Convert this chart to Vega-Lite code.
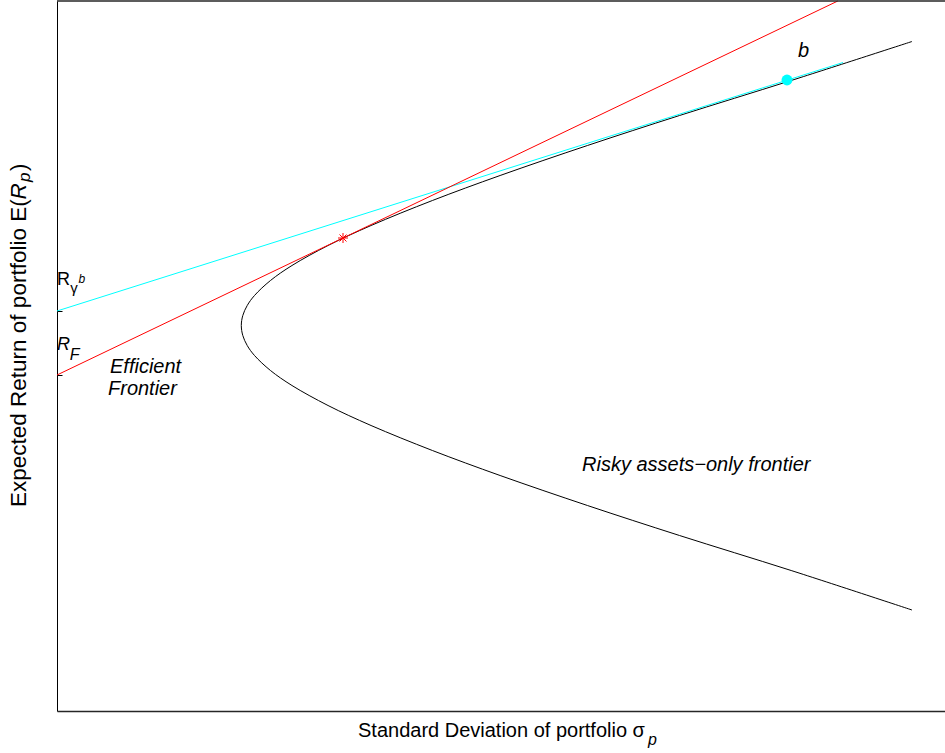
{
  "$schema": "https://vega.github.io/schema/vega-lite/v6.json",
  "width": 888,
  "height": 710,
  "autosize": {"type": "none"},
  "padding": {"left": 57, "top": 1, "right": 0, "bottom": 42},
  "background": "white",
  "config": {
    "view": {"stroke": null}
  },
  "datasets": {
    "frontier": [
      {"i": 0, "sigma": 0.4275, "ret": 0.0202},
      {"i": 1, "sigma": 0.36708, "ret": 0.0281},
      {"i": 2, "sigma": 0.31126, "ret": 0.0351},
      {"i": 3, "sigma": 0.26522, "ret": 0.0411},
      {"i": 4, "sigma": 0.22156, "ret": 0.0471},
      {"i": 5, "sigma": 0.18771, "ret": 0.0521},
      {"i": 6, "sigma": 0.15703, "ret": 0.0571},
      {"i": 7, "sigma": 0.13552, "ret": 0.0611},
      {"i": 8, "sigma": 0.11749, "ret": 0.0651},
      {"i": 9, "sigma": 0.10674, "ret": 0.0681},
      {"i": 10, "sigma": 0.09875, "ret": 0.0711},
      {"i": 11, "sigma": 0.09511, "ret": 0.0731},
      {"i": 12, "sigma": 0.0929, "ret": 0.0751},
      {"i": 13, "sigma": 0.09215, "ret": 0.0771},
      {"i": 14, "sigma": 0.0929, "ret": 0.0791},
      {"i": 15, "sigma": 0.09511, "ret": 0.0811},
      {"i": 16, "sigma": 0.09875, "ret": 0.0831},
      {"i": 17, "sigma": 0.10674, "ret": 0.0861},
      {"i": 18, "sigma": 0.11749, "ret": 0.0891},
      {"i": 19, "sigma": 0.13552, "ret": 0.0931},
      {"i": 20, "sigma": 0.15703, "ret": 0.0971},
      {"i": 21, "sigma": 0.18771, "ret": 0.1021},
      {"i": 22, "sigma": 0.22156, "ret": 0.1071},
      {"i": 23, "sigma": 0.26522, "ret": 0.1131},
      {"i": 24, "sigma": 0.31126, "ret": 0.1191},
      {"i": 25, "sigma": 0.36708, "ret": 0.1261},
      {"i": 26, "sigma": 0.4275, "ret": 0.1339}
    ],
    "cml": [
      {"sigma": 0, "ret": 0.0672},
      {"sigma": 0.3904, "ret": 0.142}
    ],
    "zeroBeta": [
      {"sigma": 0, "ret": 0.08},
      {"sigma": 0.393, "ret": 0.1297}
    ],
    "tangency": [{"sigma": 0.143, "ret": 0.0946}],
    "portfolioB": [{"sigma": 0.365, "ret": 0.1262}],
    "border": [{"sigma": 0, "sigma2": 0.444, "ret": 0.142}],
    "uprightText": [
      {"label": "Standard Deviation of portfolio σ", "sigma": 0.1505, "ret": -0.0052}
    ],
    "symbolText": [{"label": "R", "sigma": 0, "ret": 0.0852}],
    "gammaText": [{"label": "γ", "sigma": 0.0066, "ret": 0.0836}],
    "superText": [{"label": "b", "sigma": 0.0107, "ret": 0.0857}],
    "symbolItalic": [{"label": "R", "sigma": 0, "ret": 0.0722}],
    "italicText": [
      {"label": "b", "sigma": 0.3705, "ret": 0.1308},
      {"label": "Efficient", "sigma": 0.0265, "ret": 0.0676},
      {"label": "Frontier", "sigma": 0.0255, "ret": 0.0632},
      {"label": "Risky assets−only frontier", "sigma": 0.2625, "ret": 0.048}
    ],
    "subText": [
      {"label": "F", "sigma": 0.0064, "ret": 0.0702},
      {"label": "p", "sigma": 0.2955, "ret": -0.0068}
    ],
    "yTitleUpright": [
      {"label": "Expected Return of portfolio E(", "sigma": -0.0155, "ret": 0.0408},
      {"label": ")", "sigma": -0.0155, "ret": 0.108}
    ],
    "yTitleItalic": [{"label": "R", "sigma": -0.0155, "ret": 0.1023}],
    "yTitleSub": [{"label": "p", "sigma": -0.0133, "ret": 0.1058}]
  },
  "layer": [
    {
      "data": {"name": "frontier"},
      "mark": {"type": "line", "color": "black", "strokeWidth": 1, "interpolate": "catmull-rom"},
      "encoding": {
        "x": {
          "field": "sigma", "type": "quantitative",
          "scale": {"domain": [0, 0.444], "nice": false, "zero": false},
          "axis": {"title": null, "labels": false, "ticks": false, "grid": false, "domainColor": "#262626", "domainWidth": 1.3}
        },
        "y": {
          "field": "ret", "type": "quantitative",
          "scale": {"domain": [0, 0.142], "nice": false, "zero": false},
          "axis": {"title": null, "labels": false, "grid": false, "values": [0.0672, 0.08], "tickSize": -5, "tickColor": "black", "tickWidth": 1, "domainColor": "black", "domainWidth": 1}
        },
        "order": {"field": "i", "type": "quantitative"}
      }
    },
    {
      "data": {"name": "zeroBeta"},
      "mark": {"type": "line", "color": "#00ffff", "strokeWidth": 1},
      "encoding": {
        "x": {"field": "sigma", "type": "quantitative"},
        "y": {"field": "ret", "type": "quantitative"}
      }
    },
    {
      "data": {"name": "cml"},
      "mark": {"type": "line", "color": "#ff0000", "strokeWidth": 1},
      "encoding": {
        "x": {"field": "sigma", "type": "quantitative"},
        "y": {"field": "ret", "type": "quantitative"}
      }
    },
    {
      "data": {"name": "tangency"},
      "mark": {"type": "point", "shape": "M -1 0 L 1 0 M 0 -1 L 0 1 M -0.7 -0.7 L 0.7 0.7 M -0.7 0.7 L 0.7 -0.7", "filled": false, "stroke": "#ff0000", "strokeWidth": 1, "size": 100, "opacity": 1},
      "encoding": {
        "x": {"field": "sigma", "type": "quantitative"},
        "y": {"field": "ret", "type": "quantitative"}
      }
    },
    {
      "data": {"name": "portfolioB"},
      "mark": {"type": "point", "shape": "circle", "filled": true, "color": "#00ffff", "size": 120, "opacity": 1},
      "encoding": {
        "x": {"field": "sigma", "type": "quantitative"},
        "y": {"field": "ret", "type": "quantitative"}
      }
    },
    {
      "data": {"name": "border"},
      "mark": {"type": "rule", "color": "#262626", "strokeWidth": 1.3},
      "encoding": {
        "x": {"field": "sigma", "type": "quantitative"},
        "x2": {"field": "sigma2"},
        "y": {"field": "ret", "type": "quantitative"}
      }
    },
    {
      "data": {"name": "uprightText"},
      "mark": {"type": "text", "font": "Liberation Sans", "fontSize": 20, "color": "black", "align": "left", "baseline": "alphabetic"},
      "encoding": {
        "x": {"field": "sigma", "type": "quantitative"},
        "y": {"field": "ret", "type": "quantitative"},
        "text": {"field": "label"}
      }
    },
    {
      "data": {"name": "symbolText"},
      "mark": {"type": "text", "font": "Liberation Sans", "fontSize": 18, "color": "black", "align": "left", "baseline": "alphabetic"},
      "encoding": {
        "x": {"field": "sigma", "type": "quantitative"},
        "y": {"field": "ret", "type": "quantitative"},
        "text": {"field": "label"}
      }
    },
    {
      "data": {"name": "gammaText"},
      "mark": {"type": "text", "font": "Liberation Sans", "fontSize": 15, "color": "black", "align": "left", "baseline": "alphabetic"},
      "encoding": {
        "x": {"field": "sigma", "type": "quantitative"},
        "y": {"field": "ret", "type": "quantitative"},
        "text": {"field": "label"}
      }
    },
    {
      "data": {"name": "superText"},
      "mark": {"type": "text", "font": "Liberation Sans", "fontSize": 12, "fontStyle": "italic", "color": "black", "align": "left", "baseline": "alphabetic"},
      "encoding": {
        "x": {"field": "sigma", "type": "quantitative"},
        "y": {"field": "ret", "type": "quantitative"},
        "text": {"field": "label"}
      }
    },
    {
      "data": {"name": "symbolItalic"},
      "mark": {"type": "text", "font": "Liberation Sans", "fontSize": 18, "fontStyle": "italic", "color": "black", "align": "left", "baseline": "alphabetic"},
      "encoding": {
        "x": {"field": "sigma", "type": "quantitative"},
        "y": {"field": "ret", "type": "quantitative"},
        "text": {"field": "label"}
      }
    },
    {
      "data": {"name": "italicText"},
      "mark": {"type": "text", "font": "Liberation Sans", "fontSize": 20, "fontStyle": "italic", "color": "black", "align": "left", "baseline": "alphabetic"},
      "encoding": {
        "x": {"field": "sigma", "type": "quantitative"},
        "y": {"field": "ret", "type": "quantitative"},
        "text": {"field": "label"}
      }
    },
    {
      "data": {"name": "subText"},
      "mark": {"type": "text", "font": "Liberation Sans", "fontSize": 16, "fontStyle": "italic", "color": "black", "align": "left", "baseline": "alphabetic"},
      "encoding": {
        "x": {"field": "sigma", "type": "quantitative"},
        "y": {"field": "ret", "type": "quantitative"},
        "text": {"field": "label"}
      }
    },
    {
      "data": {"name": "yTitleUpright"},
      "mark": {"type": "text", "font": "Liberation Sans", "fontSize": 22.5, "color": "black", "align": "left", "baseline": "alphabetic", "angle": 270},
      "encoding": {
        "x": {"field": "sigma", "type": "quantitative"},
        "y": {"field": "ret", "type": "quantitative"},
        "text": {"field": "label"}
      }
    },
    {
      "data": {"name": "yTitleItalic"},
      "mark": {"type": "text", "font": "Liberation Sans", "fontSize": 22.5, "fontStyle": "italic", "color": "black", "align": "left", "baseline": "alphabetic", "angle": 270},
      "encoding": {
        "x": {"field": "sigma", "type": "quantitative"},
        "y": {"field": "ret", "type": "quantitative"},
        "text": {"field": "label"}
      }
    },
    {
      "data": {"name": "yTitleSub"},
      "mark": {"type": "text", "font": "Liberation Sans", "fontSize": 17, "fontStyle": "italic", "color": "black", "align": "left", "baseline": "alphabetic", "angle": 270},
      "encoding": {
        "x": {"field": "sigma", "type": "quantitative"},
        "y": {"field": "ret", "type": "quantitative"},
        "text": {"field": "label"}
      }
    }
  ]
}
